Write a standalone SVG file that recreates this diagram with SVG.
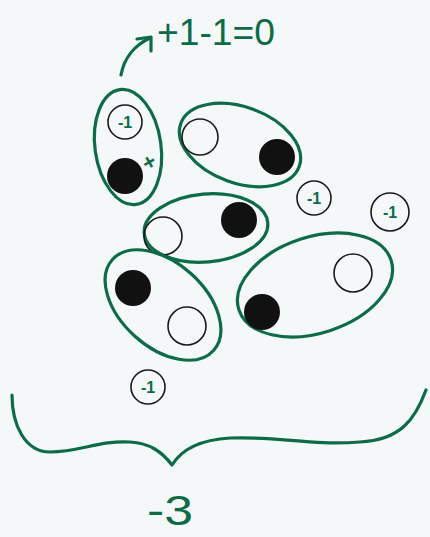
<svg xmlns="http://www.w3.org/2000/svg" width="430" height="537" viewBox="0 0 430 537">
<style>
.pair{fill:none;stroke:#0d6b47;stroke-width:3.2}
.open{fill:none;stroke:#1a1a1a;stroke-width:1.6}
.dot{fill:#111}
.ion{fill:none;stroke:#1a1a1a;stroke-width:1.6}
.lbl{font-family:"Liberation Sans",Arial,sans-serif;font-weight:bold;font-size:16px;fill:#0d6b47;text-anchor:middle;dominant-baseline:central}
.hand{font-family:"Liberation Sans",Arial,sans-serif;fill:#0d6b47}
.ink{fill:none;stroke:#0d6b47;stroke-width:3.2;stroke-linecap:round;stroke-linejoin:round}
</style>
<rect width="430" height="537" fill="#f4f8f9"/>
<g id="equation">
<text class="hand" x="157" y="45" font-size="37" textLength="118" lengthAdjust="spacingAndGlyphs">+1-1=0</text>
</g>
<g id="connectors">
<path class="ink" d="M121,75 C124,58 135,45 150,38"/>
<path class="ink" d="M137,39 L151,37 L151,51"/>
</g>
<g id="pair1">
<ellipse class="pair" cx="128" cy="147" rx="33" ry="58" transform="rotate(-8 128 147)"/>
<circle class="ion" cx="125" cy="122" r="17"/>
<text class="lbl" x="125" y="122">-1</text>
<circle class="dot" cx="125" cy="176" r="18"/>
<text class="lbl" x="149" y="162" style="font-size:22px" transform="rotate(-30 149 162)">+</text>
</g>
<g id="pair2">
<ellipse class="pair" cx="240" cy="145" rx="63" ry="38" transform="rotate(20 240 145)"/>
<circle class="open" cx="200" cy="137" r="18"/>
<circle class="dot" cx="277" cy="157" r="18"/>
</g>
<g id="pair3">
<ellipse class="pair" cx="206" cy="228" rx="62" ry="34" transform="rotate(-5 206 228)"/>
<circle class="open" cx="163" cy="236" r="19"/>
<circle class="dot" cx="239" cy="220" r="18"/>
</g>
<g id="pair4">
<ellipse class="pair" cx="315" cy="285" rx="80" ry="48" transform="rotate(-18 315 285)"/>
<circle class="open" cx="353" cy="273" r="19"/>
<circle class="dot" cx="262" cy="312" r="18"/>
</g>
<g id="pair5">
<ellipse class="pair" cx="163" cy="305" rx="68" ry="42" transform="rotate(42 163 305)"/>
<circle class="dot" cx="133" cy="288" r="18"/>
<circle class="open" cx="187" cy="326" r="19"/>
</g>
<g id="ion1">
<circle class="ion" cx="314" cy="198" r="17"/>
<text class="lbl" x="314" y="198">-1</text>
</g>
<g id="ion2">
<circle class="ion" cx="390" cy="212" r="19"/>
<text class="lbl" x="390" y="212">-1</text>
</g>
<g id="ion3">
<circle class="ion" cx="148" cy="387" r="17"/>
<text class="lbl" x="148" y="387">-1</text>
</g>
<g id="brace">
<path class="ink" d="M12,395 C12,425 25,452 50,452 C80,452 100,440 130,442 C150,443 162,452 172,465 C180,452 195,440 230,438 C280,436 310,446 360,442 C400,440 415,420 426,390"/>
</g>
<g id="total">
<text class="hand" x="147" y="525" font-size="42" textLength="46" lengthAdjust="spacingAndGlyphs">-3</text>
</g>
</svg>
